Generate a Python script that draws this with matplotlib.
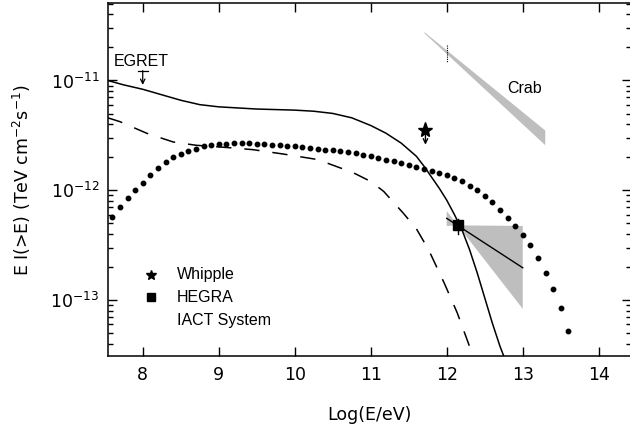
import numpy as np
import matplotlib
matplotlib.use("Agg")
import matplotlib.pyplot as plt
from matplotlib.ticker import LogLocator, NullFormatter, FixedLocator, LogFormatterSciNotation

# ---------------- data (log10 values) ----------------
solid_x = [7.54, 7.75, 8.0, 8.25, 8.5, 8.75, 9.0, 9.25, 9.5, 9.75, 10.0, 10.25,
           10.5, 10.75, 11.0, 11.2, 11.4, 11.6, 11.7, 11.8, 11.9, 12.0, 12.1, 12.2,
           12.3, 12.4, 12.5, 12.6, 12.7, 12.75]
solid_logy = [-11.00, -11.04, -11.08, -11.13, -11.18, -11.22, -11.24, -11.25,
              -11.26, -11.265, -11.27, -11.28, -11.30, -11.34, -11.41, -11.48,
              -11.57, -11.69, -11.78, -11.88, -11.98, -12.09, -12.22, -12.36, -12.54,
              -12.75, -12.98, -13.21, -13.42, -13.51]

dash_x = [7.54, 7.7, 8.05, 8.4, 8.7, 9.1, 9.45, 9.85, 10.3, 10.77, 11.0, 11.17,
          11.43, 11.6, 11.76, 11.97, 12.14, 12.32, 12.35]
dash_logy = [-11.34, -11.375, -11.48, -11.56, -11.59, -11.61, -11.63, -11.67,
             -11.72, -11.84, -11.92, -12.01, -12.21, -12.35, -12.54, -12.85,
             -13.12, -13.46, -13.51]

dot_x = [7.6, 7.7, 7.8, 7.9, 8.0, 8.1, 8.2, 8.3, 8.4, 8.5, 8.6, 8.7, 8.8, 8.9,
         9.0, 9.1, 9.2, 9.3, 9.4, 9.5, 9.6, 9.7, 9.8, 9.9, 10.0, 10.1, 10.2,
         10.3, 10.4, 10.5, 10.6, 10.7, 10.8, 10.9, 11.0, 11.1, 11.2, 11.3, 11.4,
         11.5, 11.6, 11.7, 11.8, 11.9, 12.0, 12.1, 12.2, 12.3, 12.4, 12.5, 12.6,
         12.7, 12.8, 12.9, 13.0, 13.1, 13.2, 13.3, 13.4, 13.5, 13.6]
dot_logy = [-12.24, -12.15, -12.07, -12.00, -11.93, -11.86, -11.80, -11.74,
            -11.70, -11.67, -11.64, -11.62, -11.60, -11.59, -11.58, -11.575,
            -11.57, -11.57, -11.57, -11.575, -11.58, -11.585, -11.59, -11.595,
            -11.60, -11.61, -11.615, -11.62, -11.63, -11.635, -11.645, -11.655,
            -11.665, -11.68, -11.69, -11.705, -11.72, -11.735, -11.75, -11.77,
            -11.79, -11.805, -11.825, -11.845, -11.865, -11.89, -11.92, -11.96,
            -12.00, -12.05, -12.11, -12.18, -12.25, -12.33, -12.41, -12.50,
            -12.62, -12.75, -12.90, -13.07, -13.28]

# Crab band (upper / lower edges)
crab_x = [11.70, 13.29]
crab_logy_hi = [-10.555, -11.451]
crab_logy_lo = [-10.565, -11.585]
crab_mark_x = 12.0
crab_mark_logy = [-10.68, -10.83]

# HEGRA IACT system: point, bow-tie, best fit line
hegra_x = 12.145
hegra_logy = -12.32
hegra_err_logy = [-12.26, -12.40]
bow_x = [12.0, 12.145, 13.0, 13.0, 12.145, 12.0]
bow_logy = [-12.19, -12.32, -13.08, -12.325, -12.32, -12.325]
fit_x = [12.0, 13.0]
fit_logy = [-12.256, -12.706]

# Whipple point with downward arrow
whip_x = 11.72
whip_logy = -11.45
whip_arrow_logy = -11.585

# EGRET upper limit
egret_x = 8.0
egret_logy = -10.91
egret_arrow_logy = -11.04

xticks = [8, 9, 10, 11, 12, 13, 14]
yticks = [1e-13, 1e-12, 1e-11]

# ---------------- figure ----------------
plt.rcParams['font.family'] = ['DejaVu Sans']
fig = plt.figure(figsize=(6.3, 4.32), dpi=100)
ax = fig.add_axes([0.171, 0.1759, (631 - 107.7) / 630, 0.8164])

p = lambda a: 10.0 ** np.asarray(a)

ax.fill_between(crab_x, p(crab_logy_lo), p(crab_logy_hi), color='#bebebe', lw=0)
ax.plot([crab_mark_x] * 2, p(crab_mark_logy), color='black', lw=0.8, ls=(0, (1, 1)))

ax.fill(bow_x, p(bow_logy), color='#bebebe', lw=0)
ax.plot(fit_x, p(fit_logy), color='black', lw=1.0)

ax.plot(solid_x, p(solid_logy), color='black', lw=1.1)
ax.plot(dash_x, p(dash_logy), color='black', lw=1.1, dashes=(10, 8.5))
ax.plot(dot_x, p(dot_logy), ls='none', marker='o', ms=3.2, color='black', mec='black')

# HEGRA point
ax.plot([hegra_x] * 2, p(hegra_err_logy), color='black', lw=1.0)
ax.plot([hegra_x], [p(hegra_logy)], marker='s', ms=6.5, color='black', ls='none')

# Whipple point
ax.annotate('', xy=(whip_x, p(whip_arrow_logy)), xytext=(whip_x, p(whip_logy)),
            arrowprops=dict(arrowstyle='->', lw=1.0, color='black',
                            shrinkA=0, shrinkB=0, mutation_scale=8))
ax.plot([whip_x], [p(whip_logy)], marker='*', ms=11, color='black', ls='none')

# EGRET upper limit
ax.plot([egret_x - 0.065, egret_x + 0.065], [p(egret_logy)] * 2, color='black', lw=0.9)
ax.annotate('', xy=(egret_x, p(egret_arrow_logy)), xytext=(egret_x, p(egret_logy)),
            arrowprops=dict(arrowstyle='->', lw=0.9, color='black',
                            shrinkA=0, shrinkB=0, mutation_scale=8))
ax.text(7.98, p(-10.83), 'EGRET', ha='center', va='center', fontsize=11.5,
        family='Liberation Sans')

ax.text(13.03, p(-11.07), 'Crab', ha='center', va='center', fontsize=11.5,
        family='Liberation Sans')

# legend (manual)
ax.plot([0.083], [0.230], marker='*', ms=7.5, color='black', transform=ax.transAxes, ls='none')
ax.plot([0.083], [0.167], marker='s', ms=6, color='black', transform=ax.transAxes, ls='none')
for yy, t in zip([0.230, 0.167, 0.101], ['Whipple', 'HEGRA', 'IACT System']):
    ax.text(0.132, yy, t, transform=ax.transAxes, ha='left', va='center',
            fontsize=11.5, family='Liberation Sans')

# axes
ax.set_yscale('log')
ax.set_xlim(7.5395, 14.425)
ax.set_ylim(10 ** -13.51, 10 ** -10.297)
ax.xaxis.set_major_locator(FixedLocator(xticks))
ax.set_xticklabels([str(t) for t in xticks])
ax.yaxis.set_major_locator(FixedLocator(yticks))
ax.yaxis.set_major_formatter(LogFormatterSciNotation())
ax.yaxis.set_minor_locator(LogLocator(base=10, subs=np.arange(2, 10), numticks=20))
ax.yaxis.set_minor_formatter(NullFormatter())

ax.tick_params(axis='both', which='major', direction='in', length=6.5, width=1.0,
               top=True, right=True, labelsize=12.5)
ax.tick_params(axis='y', which='minor', direction='in', length=3.5, width=1.0,
               right=True, left=True)
ax.tick_params(axis='x', which='major', pad=7)
ax.tick_params(axis='y', which='major', pad=6)
for s in ax.spines.values():
    s.set_linewidth(1.1)
ax.spines['right'].set_visible(False)

ax.set_xlabel('Log(E/eV)', fontsize=12.5)
ax.set_ylabel('E I(>E) (TeV cm$^{-2}$s$^{-1}$)', fontsize=12.5)
ax.xaxis.set_label_coords(0.5, -0.142)
ax.yaxis.set_label_coords(-0.143, 0.5)

fig.savefig('out.png', dpi=100)
